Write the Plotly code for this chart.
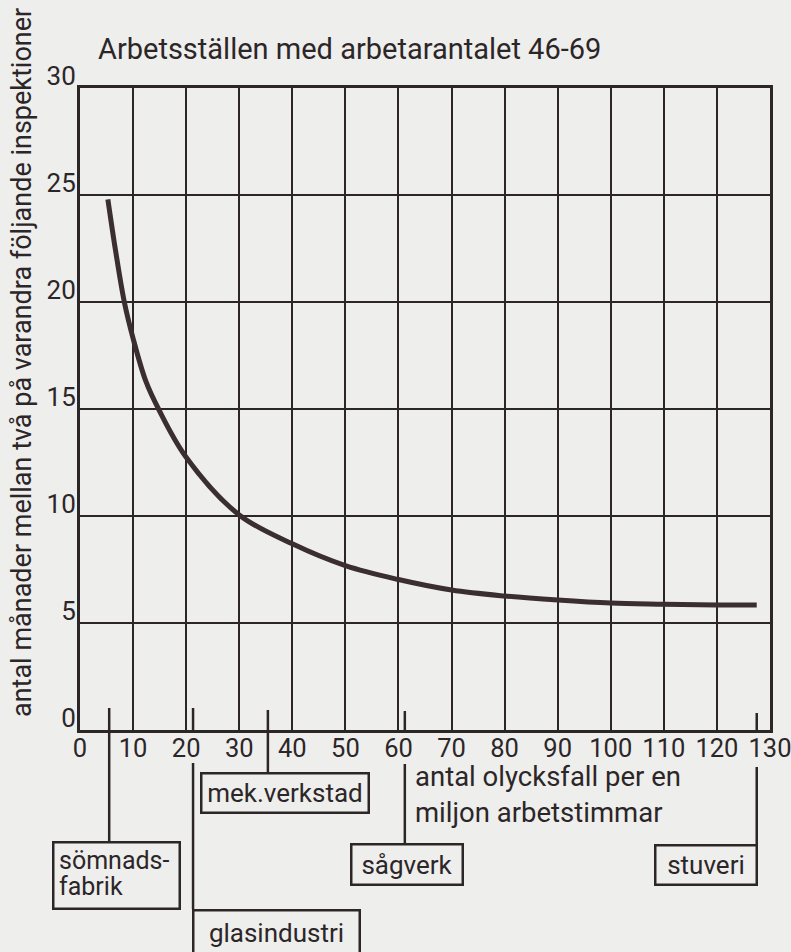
import plotly.graph_objects as go

# ---- data ----
accidents = [5.25, 6.7, 8.35, 10, 12.4, 14.8, 20, 30, 40, 50, 60, 70, 80, 90, 100, 110, 120, 127.5]
months = [24.8, 22.4, 20, 18.3, 16.3, 15, 12.75, 10.05, 8.7, 7.68, 7.03, 6.54, 6.26, 6.07, 5.93, 5.88, 5.84, 5.84]

x_ticks = list(range(0, 131, 10))
y_ticks = list(range(0, 31, 5))

industries = ["sömnadsfabrik", "glasindustri", "mek.verkstad", "sågverk", "stuveri"]
industry_rates = [5.5, 21.3, 35.4, 61.2, 127.5]

title_text = "Arbetsställen med arbetarantalet 46-69"
y_title = "antal månader mellan två på varandra följande inspektioner"
x_title = "antal olycksfall per en<br>miljon arbetstimmar"

# ---- layout geometry (pixels) ----
W, H = 791, 952
L, R, T, B = 80, 770, 88, 730
INK = "#2c2628"
CURVE = "#3a2e30"
BG = "#eeeeec"
FONT = "Roboto, Liberation Sans, sans-serif"


def py(p):
    return (B - p) / (B - T)


def px(p):
    return (p - L) / (R - L)


fig = go.Figure()
fig.add_trace(go.Scatter(
    x=accidents, y=months, mode="lines",
    line=dict(color=CURVE, width=5, shape="spline", smoothing=1.0),
    hoverinfo="skip", showlegend=False,
))

# marker line segments (pixel y ranges) per industry
segments = {
    "sömnadsfabrik": [(708, 841)],
    "glasindustri": [(708, 730), (763, 909)],
    "mek.verkstad": [(710, 772)],
    "sågverk": [(711, 730), (764, 843)],
    "stuveri": [(713, 730), (767, 844)],
}
shapes = []
for name, rate in zip(industries, industry_rates):
    for (a, b) in segments[name]:
        shapes.append(dict(type="line", xref="x", yref="paper",
                           x0=rate, x1=rate, y0=py(a), y1=py(b),
                           line=dict(color=INK, width=2.5)))

# boxes: (text, xanchor, xshift, top px, width, height)
boxes = {
    "sömnadsfabrik": (" ", "center", 7, 841, 126, 66),
    "glasindustri": ("glasindustri", "left", -1, 909, 166, 44),
    "mek.verkstad": ("mek.verkstad", "center", 17.5, 772, 167, 39),
    "sågverk": ("sågverk", "center", 2.5, 843, 111, 40),
    "stuveri": ("stuveri", "right", 1, 844, 101, 39),
}
annotations = []
for name, rate in zip(industries, industry_rates):
    txt, xa, xs, top, bw, bh = boxes[name]
    annotations.append(dict(
        text=txt, xref="x", yref="paper", x=rate, y=py(top),
        xanchor=xa, yanchor="top", xshift=xs, showarrow=False,
        width=bw - 2, height=bh - 2, borderpad=0, borderwidth=2.5,
        bordercolor=INK, align="center", valign="middle",
        font=dict(family=FONT, size=26, color=INK),
    ))

# two-line label inside the sömnadsfabrik box
for line_txt, cy in [("sömnads-", 860), ("fabrik", 886)]:
    annotations.append(dict(
        text=line_txt, xref="x", yref="paper", x=industry_rates[0], y=py(cy),
        xanchor="left", yanchor="middle", xshift=-52, showarrow=False,
        font=dict(family=FONT, size=25, color=INK),
    ))

# title
annotations.append(dict(
    text=title_text, xref="paper", yref="paper", x=px(96), y=py(49),
    xanchor="left", yanchor="middle", showarrow=False,
    font=dict(family=FONT, size=29, color=INK),
))
# y title
annotations.append(dict(
    text=y_title, xref="paper", yref="paper", x=px(22), y=py(363),
    xanchor="center", yanchor="middle", textangle=-90, showarrow=False,
    font=dict(family=FONT, size=27, color=INK),
))
# x title
annotations.append(dict(
    text=x_title, xref="paper", yref="paper", x=px(413), y=py(794),
    xanchor="left", yanchor="middle", align="left", showarrow=False,
    font=dict(family=FONT, size=27.5, color=INK),
))

fig.update_layout(
    width=W, height=H,
    margin=dict(l=L, r=W - R, t=T, b=H - B, pad=0, autoexpand=False),
    paper_bgcolor=BG, plot_bgcolor=BG,
    shapes=shapes, annotations=annotations,
    showlegend=False,
    font=dict(family=FONT, size=26, color=INK),
)
fig.update_xaxes(
    range=[0, 130], tickvals=x_ticks, ticktext=[str(v) for v in x_ticks],
    showgrid=True, gridcolor=INK, gridwidth=2,
    showline=True, linecolor=INK, linewidth=3, mirror=True,
    zeroline=False, ticks="", ticklabelstandoff=-7, automargin=False,
    ticklabeloverflow="allow",
    tickfont=dict(family=FONT, size=25.5, color=INK),
    fixedrange=True,
)
fig.update_yaxes(
    range=[0, 30], tickvals=y_ticks, ticktext=[str(v) for v in y_ticks],
    showgrid=True, gridcolor=INK, gridwidth=2,
    showline=True, linecolor=INK, linewidth=3, mirror=True,
    zeroline=False, ticks="", ticklabelshift=-12, ticklabelstandoff=-4,
    automargin=False, ticklabeloverflow="allow",
    tickfont=dict(family=FONT, size=26, color=INK),
    fixedrange=True,
)

fig.write_html(
    "out.html",
    config={"displayModeBar": False},
    post_script="document.body.style.margin='0';document.body.style.background='#eeeeec';",
)
